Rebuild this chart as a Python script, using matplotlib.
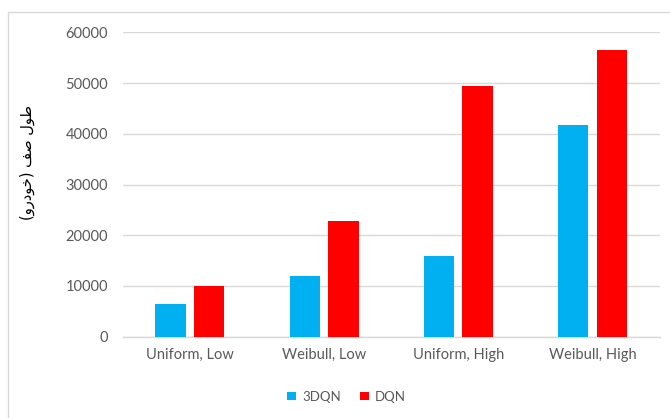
import numpy as np
import matplotlib.pyplot as plt
from matplotlib.patches import Rectangle

categories = ["Uniform, Low", "Weibull, Low", "Uniform, High", "Weibull, High"]
vals_3dqn = [6500, 12000, 16000, 41700]
vals_dqn = [10000, 22900, 49500, 56500]
series_names = ["3DQN", "DQN"]
yticks = [0, 10000, 20000, 30000, 40000, 50000, 60000]

# "طول صف (خودرو)" in presentation forms, visual order
ylabel = "(\ufeed\ufead\ufea9\ufeee\ufea7) \ufed2\ufebb \ufedd\ufeee\ufec3"

blue = "#00B0F0"
red = "#FF0000"
grey = "#595959"
grid = "#D9D9D9"

plt.rcParams['font.family'] = ['Lato', 'DejaVu Sans']

W, H = 670, 418
fig = plt.figure(figsize=(W / 100, H / 100), dpi=100)
ax = fig.add_axes([122.6 / W, 1 - 336.7 / H, (659.7 - 122.6) / W, (336.7 - 32.3) / H])

x = np.arange(len(categories))
bw = 0.226
off = 0.144
ax.bar(x - off, vals_3dqn, bw, color=blue, label=series_names[0], zorder=3)
ax.bar(x + off, vals_dqn, bw, color=red, label=series_names[1], zorder=3)

ax.set_xlim(-0.5, len(categories) - 0.5)
ax.set_ylim(0, 60000)
ax.set_yticks(yticks)
ax.set_yticklabels([str(v) for v in yticks])
ax.set_xticks(x)
ax.set_xticklabels(categories)
ax.tick_params(length=0, labelsize=10.5, labelcolor=grey)
ax.tick_params(axis='y', pad=10.5)
ax.tick_params(axis='x', pad=8)
ax.grid(axis='y', color=grid, linewidth=1.0, zorder=0)
for s in ["top", "right", "left"]:
    ax.spines[s].set_visible(False)
ax.spines["bottom"].set_color(grid)
ax.spines["bottom"].set_linewidth(1.0)

fig.text(27 / W, 1 - 162 / H, ylabel, rotation=90, ha='center', va='center',
         fontsize=10.5, color="#000000", family=['DejaVu Sans'])

leg = fig.legend(loc='center', bbox_to_anchor=(346.7 / W, 1 - 396.7 / H), ncol=2,
                 frameon=False, fontsize=9.5, handlelength=0.65, handleheight=0.65,
                 handletextpad=0.45, columnspacing=1.5, borderpad=0)
for t in leg.get_texts():
    t.set_color(grey)

# chart area border (left and top edges visible)
fig.patches.append(Rectangle((7.5 / W, -0.1), 1.2, 1 - 12.5 / H + 0.1,
                             transform=fig.transFigure, fill=False,
                             edgecolor=grid, linewidth=1.0))

fig.savefig("out.png", dpi=100)
